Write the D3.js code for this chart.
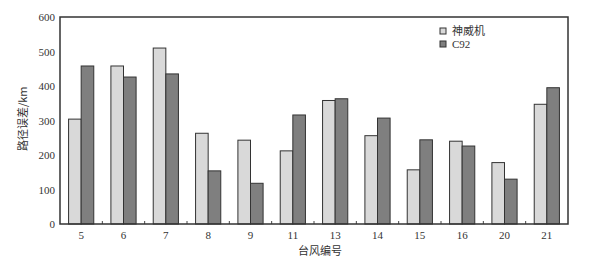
<!DOCTYPE html>
<meta charset="utf-8">
<style>
body { margin: 0; background: #fff; }
.tick text, .lbl { font: 11px "Liberation Serif", "DejaVu Serif", serif; fill: #333; }
.cjk { font: 11px "Noto Sans CJK SC", sans-serif; fill: #333; }
</style>
<body>
<script src="https://d3js.org/d3.v7.min.js"></script>
<script>

var typhoons = ["5", "6", "7", "8", "9", "11", "13", "14", "15", "16", "20", "21"];
var shenwei = [304, 458, 510, 263, 243, 212, 358, 256, 157, 240, 178, 347];
var c92 = [458, 426, 435, 154, 118, 316, 363, 307, 244, 226, 130, 395];
var seriesNames = ["神威机", "C92"];
var yTicks = [0, 100, 200, 300, 400, 500, 600];

var width = 600, height = 267,
    margin = {top: 17, right: 32, bottom: 43, left: 60};

var colors = ["#d9d9d9", "#7f7f7f"];

var svg = d3.select("body").append("svg")
    .attr("width", width)
    .attr("height", height);

var x = d3.scaleBand()
    .domain(typhoons)
    .range([margin.left, width - margin.right]);

var x1 = d3.scaleBand()
    .domain([0, 1])
    .range([0, x.bandwidth()])
    .paddingOuter(0.68);

var y = d3.scaleLinear()
    .domain([0, 600])
    .range([height - margin.bottom, margin.top]);

var rows = typhoons.map(function(t, i) { return {key: t, values: [shenwei[i], c92[i]]}; });

svg.append("g").selectAll("g")
  .data(rows)
  .enter().append("g")
    .attr("transform", function(d) { return "translate(" + x(d.key) + ",0)"; })
  .selectAll("rect")
  .data(function(d) { return d.values; })
  .enter().append("rect")
    .attr("x", function(d, i) { return x1(i); })
    .attr("width", x1.bandwidth())
    .attr("y", function(d) { return y(d); })
    .attr("height", function(d) { return y(0) - y(d); })
    .attr("fill", function(d, i) { return colors[i]; })
    .attr("stroke", "#333")
    .attr("stroke-width", 1);

// y axis
var yAxis = svg.append("g")
    .attr("transform", "translate(" + margin.left + ",0)")
    .call(d3.axisLeft(y).tickValues(yTicks).tickSize(0).tickPadding(5));
yAxis.select(".domain").remove();

// x axis
var xAxis = svg.append("g")
    .attr("transform", "translate(0," + (height - margin.bottom) + ")")
    .call(d3.axisBottom(x).tickSize(0).tickPadding(7));
xAxis.select(".domain").remove();

// small inner ticks between groups
svg.append("g").selectAll("line")
  .data(typhoons.slice(1))
  .enter().append("line")
    .attr("x1", function(d) { return x(d); })
    .attr("x2", function(d) { return x(d); })
    .attr("y1", y(0))
    .attr("y2", y(0) - 3)
    .attr("stroke", "#444");

// frame
svg.append("rect")
    .attr("x", margin.left)
    .attr("y", margin.top)
    .attr("width", width - margin.left - margin.right)
    .attr("height", height - margin.top - margin.bottom)
    .attr("fill", "none")
    .attr("stroke", "#333")
    .attr("stroke-width", 1.5);

// axis titles
svg.append("text")
    .attr("class", "cjk")
    .attr("text-anchor", "middle")
    .attr("transform", "translate(27," + y(305) + ")rotate(-90)")
    .text("路径误差/km");

svg.append("text")
    .attr("class", "cjk")
    .attr("text-anchor", "middle")
    .attr("x", (margin.left + width - margin.right) / 2 + 6)
    .attr("y", 255)
    .text("台风编号");

// legend
var legend = svg.append("g")
    .attr("transform", "translate(440,28)");

legend.selectAll("rect")
  .data(seriesNames)
  .enter().append("rect")
    .attr("x", 0)
    .attr("y", function(d, i) { return i * 13; })
    .attr("width", 6)
    .attr("height", 6)
    .attr("fill", function(d, i) { return colors[i]; })
    .attr("stroke", "#333");

legend.selectAll("text")
  .data(seriesNames)
  .enter().append("text")
    .attr("class", function(d, i) { return i ? "lbl" : "cjk"; })
    .attr("x", 12)
    .attr("y", function(d, i) { return i * 13 + 7; })
    .text(function(d) { return d; });

</script>
